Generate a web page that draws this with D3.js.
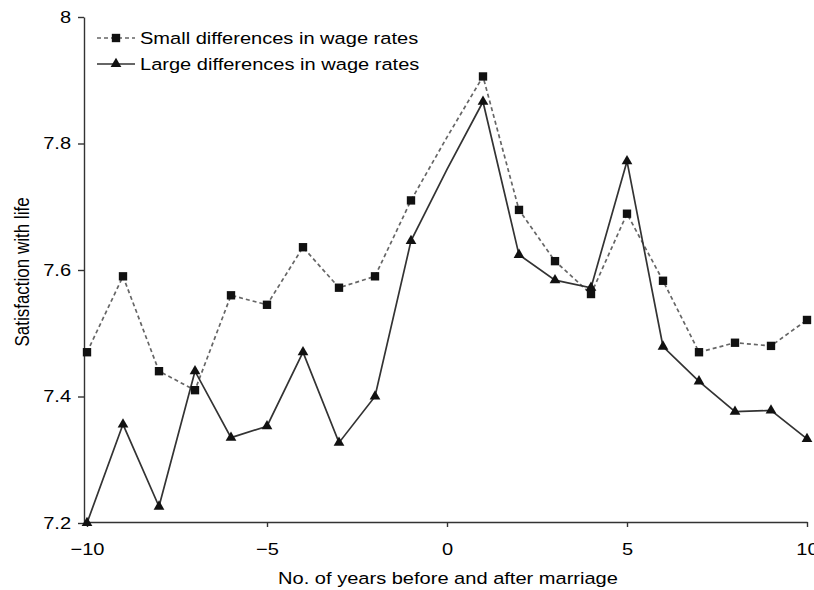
<!DOCTYPE html>
<html><head><meta charset="utf-8">
<script src="https://cdn.jsdelivr.net/npm/d3@7"></script>
<style>body{margin:0;background:#fff}svg{display:block}text{font-family:"Liberation Sans",Arial,sans-serif;fill:#000}</style>
</head><body><svg id="c" width="814" height="590"></svg>
<script>
const years = [-10,-9,-8,-7,-6,-5,-4,-3,-2,-1,0,1,2,3,4,5,6,7,8,9,10];
const smallDiff = [7.47,7.59,7.44,7.41,7.56,7.545,7.636,7.572,7.59,7.71,7.81,7.906,7.695,7.614,7.562,7.689,7.583,7.47,7.485,7.48,7.521];
const largeDiff = [7.2,7.356,7.226,7.44,7.335,7.353,7.47,7.327,7.40,7.646,7.759,7.866,7.624,7.584,7.572,7.772,7.479,7.424,7.376,7.378,7.333];
const yTicks = [7.2,7.4,7.6,7.8,8];
const xTicks = [-10,-5,0,5,10];
const seriesNames = ["Small differences in wage rates","Large differences in wage rates"];

const SX = 1.18, FS = "17px";
const svg = d3.select("#c");
const x = d3.scaleLinear().domain([-10,10]).range([87,807]);
const y = d3.scaleLinear().domain([7.2,8]).range([523,17]);

const fmtY = d => d===8 ? "8" : d3.format(".1f")(d);
const fmtX = d => d<0 ? "\u2212"+Math.abs(d) : String(d);

const gy = svg.append("g").attr("transform","translate(84,0)")
  .call(d3.axisLeft(y).tickValues(yTicks).tickFormat(fmtY).tickSize(6).tickPadding(5).tickSizeOuter(0));
gy.selectAll("text").style("font-size",FS).attr("transform",`scale(${SX},1)`);
gy.selectAll("path,line").attr("stroke","#333").attr("stroke-width",1.4);

const gx = svg.append("g").attr("transform","translate(0,522)")
  .call(d3.axisBottom(x).tickValues(xTicks).tickFormat(fmtX).tickSize(5).tickPadding(16).tickSizeOuter(0));
gx.select(".domain").attr("d","M84,0.5H807.5");
gx.selectAll("text").style("font-size",FS).attr("transform",`scale(${SX},1)`);
gx.selectAll("path,line").attr("stroke","#333").attr("stroke-width",1.4);

svg.append("text").attr("transform",`translate(448,584) scale(${SX},1)`).attr("text-anchor","middle").style("font-size",FS)
  .text("No. of years before and after marriage");
svg.append("text").attr("transform","translate(29,272) rotate(-90) scale(1,1.18)").attr("text-anchor","middle").style("font-size",FS)
  .text("Satisfaction with life");

const line = d3.line().x((d,i)=>x(years[i])).y(d=>y(d));
svg.append("path").datum(smallDiff).attr("d",line).attr("fill","none")
  .attr("stroke","#666").attr("stroke-width",1.7).attr("stroke-dasharray","4,3");
svg.append("path").datum(largeDiff).attr("d",line).attr("fill","none")
  .attr("stroke","#333").attr("stroke-width",1.7);

const sq = d3.symbol().type(d3.symbolSquare).size(70);
const tri = d3.symbol().type(d3.symbolTriangle).size(50);
const idx = years.map((d,i)=>i).filter(i=>years[i]!==0);
svg.append("g").selectAll("path").data(idx).join("path")
  .attr("transform",i=>`translate(${x(years[i])},${y(smallDiff[i])})`).attr("d",sq).attr("fill","#111");
svg.append("g").selectAll("path").data(idx).join("path")
  .attr("transform",i=>`translate(${x(years[i])},${y(largeDiff[i])})`).attr("d",tri).attr("fill","#111");

// legend
const lg = svg.append("g");
const ly = [38,64];
lg.append("line").attr("x1",97).attr("x2",135).attr("y1",ly[0]).attr("y2",ly[0]).attr("stroke","#666").attr("stroke-width",1.7).attr("stroke-dasharray","4,3");
lg.append("path").attr("transform",`translate(116,${ly[0]})`).attr("d",sq).attr("fill","#111");
lg.append("line").attr("x1",97).attr("x2",135).attr("y1",ly[1]).attr("y2",ly[1]).attr("stroke","#333").attr("stroke-width",1.7);
lg.append("path").attr("transform",`translate(116,${ly[1]})`).attr("d",tri).attr("fill","#111");
seriesNames.forEach((n,i)=>{
  lg.append("text").attr("transform",`translate(140,${ly[i]}) scale(${SX},1)`).attr("dy","0.35em").style("font-size",FS).text(n);
});
</script></body></html>
